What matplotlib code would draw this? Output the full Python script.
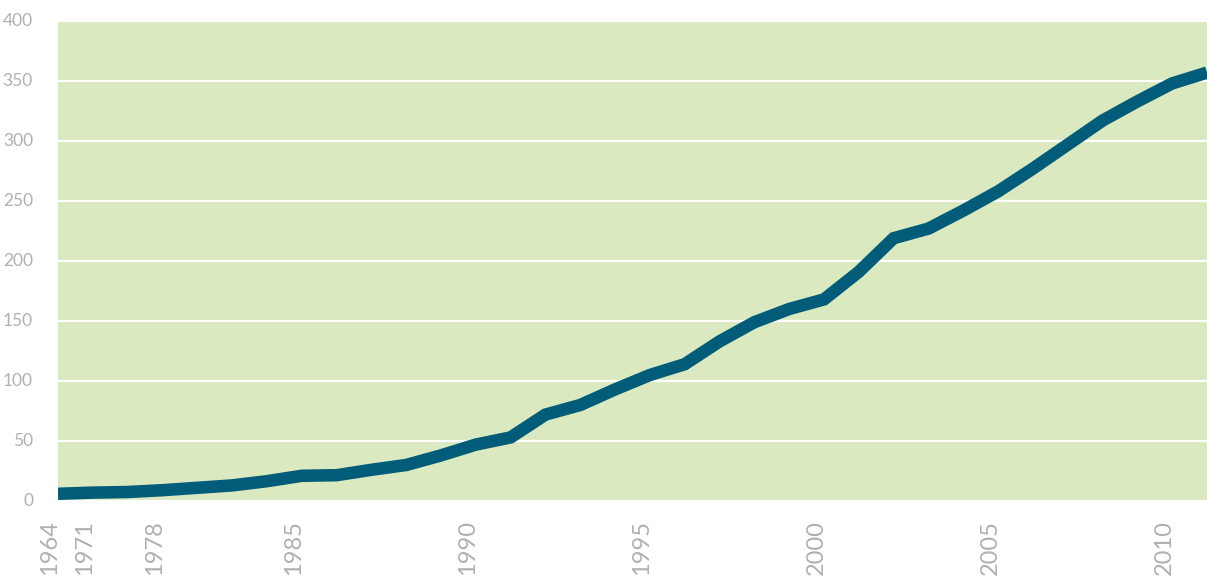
import matplotlib
matplotlib.use("Agg")
import matplotlib.pyplot as plt
import matplotlib.transforms as mtransforms

# ---- data ----
years = ["1964", "1971", "1975", "1978", "1980", "1982", "1984",
         "1985", "1986", "1987", "1988", "1989", "1990", "1991", "1992",
         "1993", "1994", "1995", "1996", "1997", "1998", "1999", "2000",
         "2001", "2002", "2003", "2004", "2005", "2006", "2007", "2008",
         "2009", "2010", "2011"]
values = [6, 7, 7.5, 9, 11, 13, 16.5,
          21, 21.5, 26, 30, 38, 47, 53, 72,
          80, 93, 105, 114, 133, 149, 160, 168,
          191, 219, 227, 242, 258, 277, 297, 317,
          333, 348, 357]
labeled_years = ["1964", "1971", "1978", "1985", "1990", "1995",
                 "2000", "2005", "2010"]
y_ticks = [0, 50, 100, 150, 200, 250, 300, 350, 400]

BG = "#DBE9C1"
LINE = "#005C78"
GRAY = "#B0B0B0"

plt.rcParams['font.family'] = ['Lato', 'DejaVu Sans']

fig = plt.figure(figsize=(12.07, 5.78), dpi=100)
ax = fig.add_axes([58 / 1207, 77 / 578, 1 - 58 / 1207, 480 / 578])
ax.set_facecolor(BG)

x = list(range(len(years)))
ax.plot(x, values, color=LINE, linewidth=9, solid_capstyle="butt",
        solid_joinstyle="miter", zorder=3)

ax.set_xlim(0, len(years) - 1)
ax.set_ylim(0, 400)

ax.set_yticks(y_ticks)
ax.set_yticklabels([str(v) for v in y_ticks], fontsize=12.5, color=GRAY)
ax.tick_params(axis="y", length=0, pad=18)
for lab in ax.get_yticklabels():
    lab.set_verticalalignment("bottom")
    lab.set_transform(lab.get_transform() + mtransforms.ScaledTranslation(0, -8 / 100, fig.dpi_scale_trans))

ax.grid(axis="y", color="white", linewidth=1.6, zorder=1)
ax.set_axisbelow(True)

pos = [years.index(y) for y in labeled_years]
ax.set_xticks(pos)
ax.set_xticklabels(labeled_years, rotation=90, fontsize=17, color=GRAY,
                   va="top", ha="center")
ax.tick_params(axis="x", length=0, pad=14)
offset = mtransforms.ScaledTranslation(-8 / 100, 0, fig.dpi_scale_trans)
for lab in ax.get_xticklabels():
    lab.set_transform(lab.get_transform() + offset)

for s in ax.spines.values():
    s.set_visible(False)

fig.savefig("out.png", dpi=100, facecolor="white")
